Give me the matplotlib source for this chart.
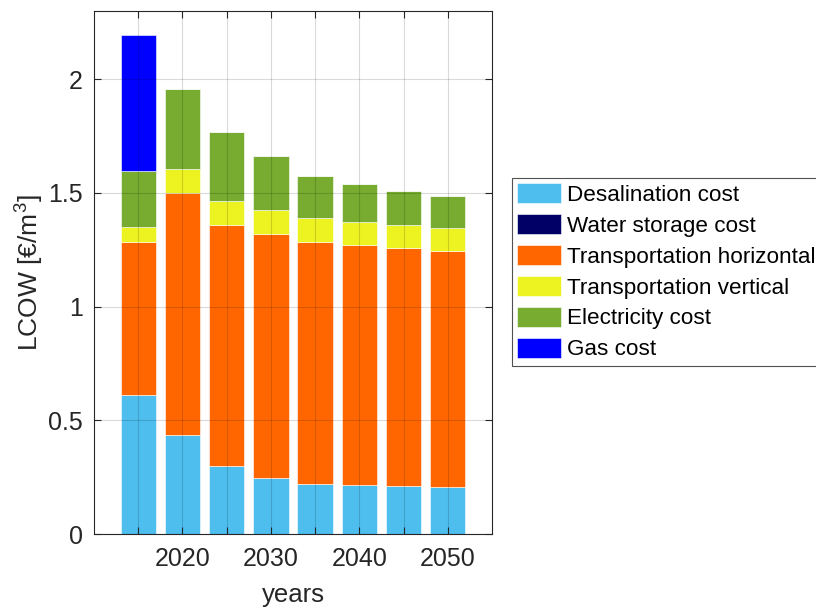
import matplotlib
matplotlib.use("Agg")
import matplotlib.pyplot as plt
from matplotlib.ticker import FixedLocator
import numpy as np

plt.rcParams['font.family'] = ['Liberation Sans', 'DejaVu Sans']
plt.rcParams['mathtext.fontset'] = 'custom'
plt.rcParams['mathtext.rm'] = 'Liberation Sans'

years = [2015, 2020, 2025, 2030, 2035, 2040, 2045, 2050]
desalination = [0.613, 0.436, 0.299, 0.248, 0.222, 0.216, 0.211, 0.207]
water_storage = [0.0, 0.0, 0.0, 0.0, 0.0, 0.0, 0.0, 0.0]
transport_horizontal = [0.672, 1.065, 1.060, 1.072, 1.063, 1.055, 1.047, 1.039]
transport_vertical = [0.065, 0.104, 0.104, 0.105, 0.103, 0.102, 0.101, 0.101]
electricity = [0.248, 0.351, 0.306, 0.239, 0.186, 0.165, 0.148, 0.141]
gas = [0.598, 0.0, 0.0, 0.0, 0.0, 0.0, 0.0, 0.0]

series = [
    ("Desalination cost", desalination, "#4DBEEE"),
    ("Water storage cost", water_storage, "#000066"),
    ("Transportation horizontal", transport_horizontal, "#FF6600"),
    ("Transportation vertical", transport_vertical, "#EDF221"),
    ("Electricity cost", electricity, "#77AC30"),
    ("Gas cost", gas, "#0000FF"),
]

fig = plt.figure(figsize=(8.16, 6.13), dpi=100)
ax = fig.add_axes([94 / 816, 1 - 534 / 613, (492 - 94) / 816, (534 - 11) / 613])

bottom = np.zeros(len(years))
handles = []
for label, vals, color in series:
    vals = np.array(vals)
    h = ax.bar(years, vals, width=4, bottom=bottom, color=color,
               edgecolor="white", linewidth=0.4, label=label, zorder=1)
    handles.append(h)
    bottom += vals

ax.set_xlim(2010, 2055)
ax.set_ylim(0, 2.3)
ax.xaxis.set_major_locator(FixedLocator([2020, 2030, 2040, 2050]))
ax.xaxis.set_minor_locator(FixedLocator([2015, 2025, 2035, 2045]))
ax.set_yticks([0, 0.5, 1, 1.5, 2])
ax.set_yticklabels(["0", "0.5", "1", "1.5", "2"])

ax.grid(True, which="both", axis="x", color="black", alpha=0.15, linewidth=0.8, zorder=5)
ax.grid(True, which="major", axis="y", color="black", alpha=0.15, linewidth=0.8, zorder=5)
ax.set_axisbelow(False)

ax.tick_params(axis="both", which="both", direction="in", top=True, right=True,
               length=5, width=0.8, colors="#262626", labelsize=18)
ax.tick_params(axis="y", which="both", pad=8)
ax.tick_params(axis="x", which="both", pad=9)
for s in ax.spines.values():
    s.set_color("#262626")
    s.set_linewidth(0.8)

ax.set_xlabel("years", fontsize=18.5, color="#262626", labelpad=9)
ax.set_ylabel(r"LCOW [€/m$^3$]", fontsize=19, color="#262626", labelpad=2)

leg = fig.legend(handles=handles, loc="upper left",
                 bbox_to_anchor=(511.5 / 816, 1 - 177.5 / 613),
                 fontsize=16.2, frameon=True, fancybox=False,
                 edgecolor="#262626", borderpad=0.25, labelspacing=0.36,
                 handlelength=1.95, handleheight=1.0, handletextpad=0.25,
                 borderaxespad=0)
leg.get_frame().set_linewidth(0.8)

fig.savefig("out.png", dpi=100)
